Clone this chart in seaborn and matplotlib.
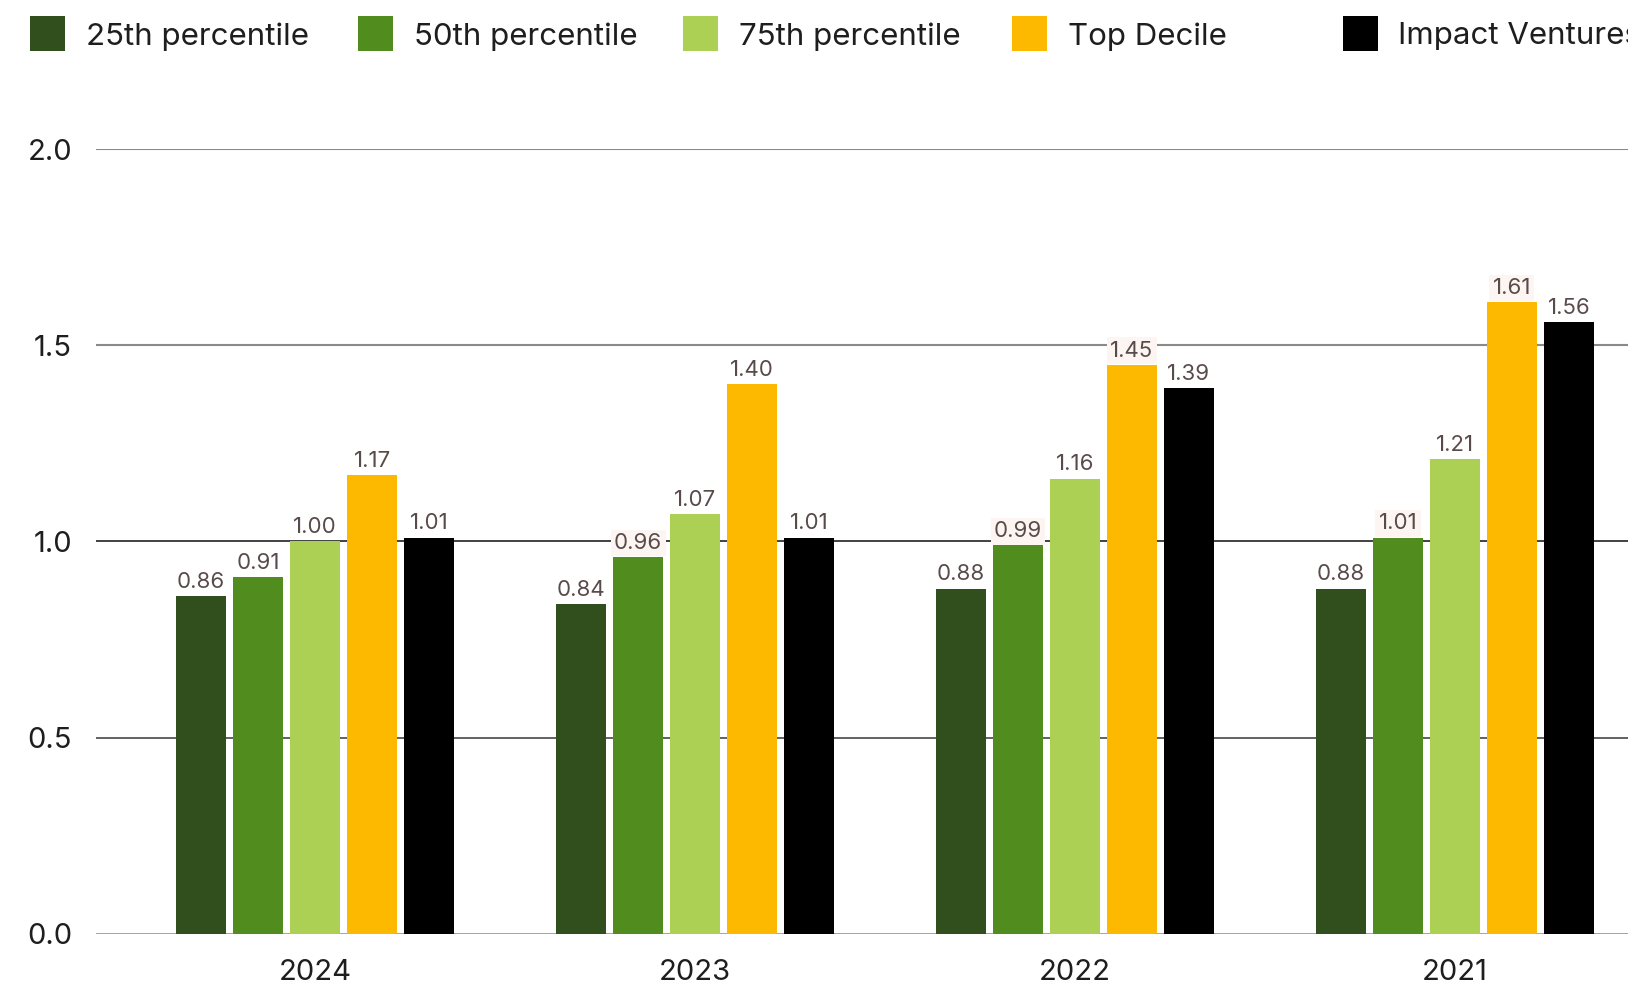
import matplotlib
matplotlib.use("Agg")
import matplotlib.pyplot as plt
import seaborn as sns
import pandas as pd
from matplotlib.patches import Rectangle

years = ["2024", "2023", "2022", "2021"]
series = ["25th percentile", "50th percentile", "75th percentile", "Top Decile", "Impact Ventures"]
p25 = [0.86, 0.84, 0.88, 0.88]
p50 = [0.91, 0.96, 0.99, 1.01]
p75 = [1.00, 1.07, 1.16, 1.21]
top_decile = [1.17, 1.40, 1.45, 1.61]
impact = [1.01, 1.01, 1.39, 1.56]
colors = ["#304f1d", "#508c1e", "#abd054", "#fdb800", "#000000"]
yticks = [0.0, 0.5, 1.0, 1.5, 2.0]

# labels shown with a faint background box in the original
highlighted = {("50th percentile", "2023"), ("50th percentile", "2022"),
               ("Top Decile", "2022"), ("Top Decile", "2021"),
               ("50th percentile", "2021")}

values = [p25, p50, p75, top_decile, impact]
rows = []
for s, vals in zip(series, values):
    for y, v in zip(years, vals):
        rows.append({"year": y, "series": s, "value": v})
df = pd.DataFrame(rows)

sns.set_theme(style="white")
plt.rcParams["font.family"] = ["Inter", "DejaVu Sans"]

W, H = 1628, 986
fig = plt.figure(figsize=(W / 100, H / 100), dpi=100)
ax = fig.add_axes([95.5 / W, (H - 933.9) / H, 1579 / W, (933.9 - 149) / H])

for yv, c, lw in zip(yticks, ["#9a9a9a", "#555555", "#333333", "#8a8a8a", "#8a8a8a"],
                     [2.0, 1.3, 1.3, 1.5, 1.5]):
    ax.axhline(yv, color=c, lw=lw, zorder=0)

sns.barplot(data=df, x="year", y="value", hue="series", order=years,
            hue_order=series, palette=colors, width=0.75, gap=0.12,
            saturation=1, legend=False, ax=ax, zorder=2, linewidth=0)

for cont, s in zip(ax.containers, series):
    for bar, y in zip(cont.patches, years):
        v = df[(df.series == s) & (df.year == y)].value.iloc[0]
        kw = {}
        if (s, y) in highlighted:
            kw["bbox"] = dict(boxstyle="square,pad=0.15", fc="#fdf5f1", ec="none")
        ax.annotate(f"{v:.2f}", (bar.get_x() + bar.get_width() / 2, bar.get_height()),
                    xytext=(0, 3), textcoords="offset points", ha="center", va="bottom",
                    fontsize=16, color="#5a4b4b", zorder=3, **kw)

ax.set_xlim(-0.578, 3.578)
ax.set_ylim(0, 2.0)
ax.set_yticks(yticks)
ax.set_yticklabels([f"{t:.1f}" for t in yticks])
ax.set_xlabel("")
ax.set_ylabel("")
ax.tick_params(axis="y", labelsize=21, colors="#1e1e1e", length=0, pad=17)
ax.tick_params(axis="x", labelsize=21, colors="#1e1e1e", length=0, pad=18)
for sp in ax.spines.values():
    sp.set_visible(False)
ax.grid(False)

# legend row
sq_x = [30, 358, 683, 1012, 1342.5]
txt_x = [86, 414, 739, 1068, 1398.5]
cy = 33.5
for x0, tx, c, s in zip(sq_x, txt_x, colors, series):
    fig.patches.append(Rectangle((x0 / W, (H - cy - 17.5) / H), 35 / W, 35 / H,
                                 transform=fig.transFigure, fc=c, ec="none"))
    fig.text(tx / W, (H - cy) / H, s, ha="left", va="center_baseline",
             fontsize=22.5, color="#1e1e1e")

fig.savefig("out.png", dpi=100)
